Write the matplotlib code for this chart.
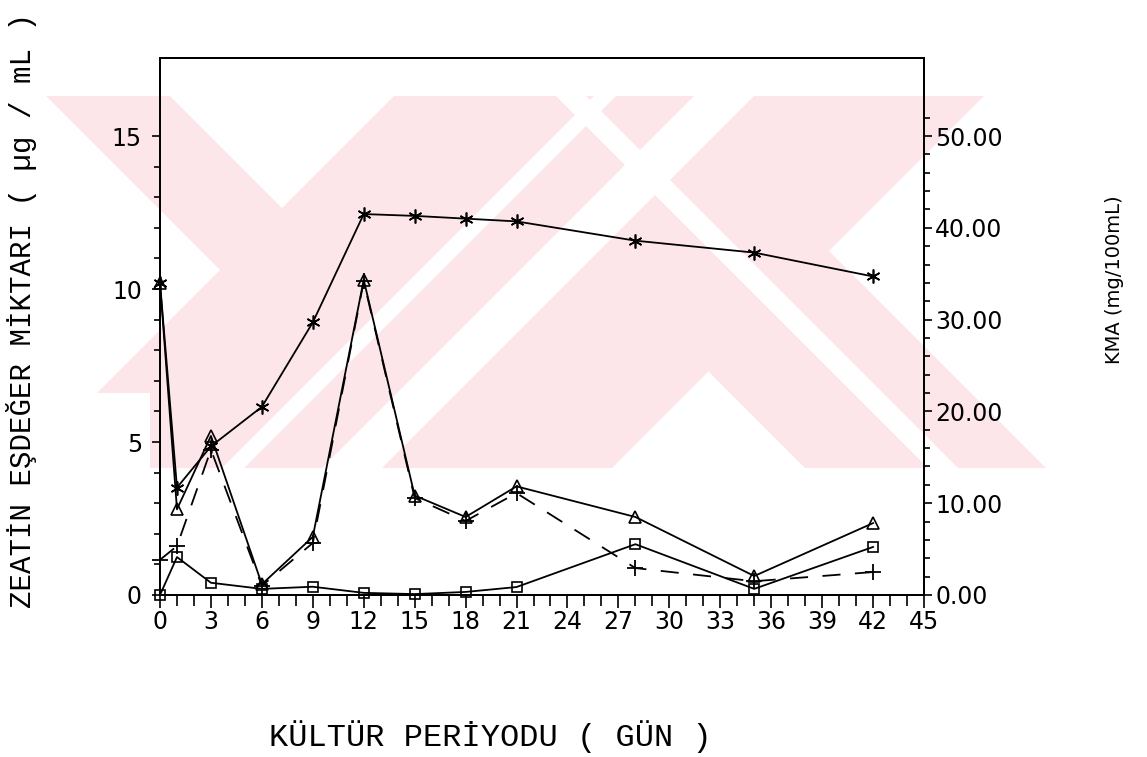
import matplotlib
matplotlib.use("Agg")
import matplotlib.pyplot as plt
from matplotlib.patches import Polygon, Rectangle
from matplotlib.ticker import FixedLocator, FuncFormatter

# Culture period (days)
days = [0, 1, 3, 6, 9, 12, 15, 18, 21, 28, 35, 42]

# Zeatin-equivalent amounts (ug/mL), left axis
zeatin_triangle = [10.2, 2.8, 5.2, 0.35, 1.9, 10.3, 3.25, 2.55, 3.55, 2.55, 0.62, 2.35]
zeatin_plus = [1.15, 1.6, 4.75, 0.3, 1.7, 10.25, 3.17, 2.42, 3.33, 0.88, 0.45, 0.75]
zeatin_square = [0.0, 1.24, 0.4, 0.2, 0.27, 0.07, 0.03, 0.1, 0.26, 1.66, 0.2, 1.57]

# KMA (mg/100mL), right axis
kma = [34.0, 11.7, 16.2, 20.5, 29.7, 41.5, 41.3, 41.0, 40.7, 38.6, 37.3, 34.7]

x_ticks = list(range(0, 46, 3))
left_ticks = [0, 5, 10, 15]
right_ticks = [0, 10, 20, 30, 40, 50]

W, H = 1147, 757
fig = plt.figure(figsize=(W / 100, H / 100), dpi=100)

sans = "DejaVu Sans"
mono = "Liberation Mono"

# Faint background emblem made of diagonal bands, in pixel space (y down)
bg = fig.add_axes([0, 0, 1, 1], zorder=-5)
bg.set_xlim(0, W)
bg.set_ylim(H, 0)
bg.axis("off")
pink = "#fce6ea"
top, bot = 96, 468
clip = Rectangle((0, top), W, bot - top, transform=bg.transData,
                 fc="none", ec="none")


def back_band(c0, c1):
    # band between the lines x - y = c0 and x - y = c1
    return [(c0 + top, top), (c1 + top, top), (c1 + bot, bot), (c0 + bot, bot)]


def fwd_band(s0, s1):
    # band between the lines x + y = s0 and x + y = s1
    return [(s0 - top, top), (s1 - top, top), (s1 - bot, bot), (s0 - bot, bot)]


pink_bands = [back_band(-50, 74), back_band(337, 578), fwd_band(490, 1080)]
white_bands = [back_band(460, 490), fwd_band(790, 850), fwd_band(690, 712),
               [(0, 393), (150, 393), (150, bot), (0, bot)]]
for pts in pink_bands:
    p = bg.add_patch(Polygon(pts, closed=True, fc=pink, ec="none"))
    p.set_clip_path(clip)
for pts in white_bands:
    p = bg.add_patch(Polygon(pts, closed=True, fc="white", ec="none"))
    p.set_clip_path(clip)

ax = fig.add_axes([160 / W, 1 - 595 / H, (924 - 160) / W, (595 - 58) / H])
ax.set_facecolor("none")
ax2 = ax.twinx()
ax2.set_facecolor("none")

lw = 1.3
ax.plot(days, zeatin_triangle, color="black", lw=lw, marker="^", ms=9,
        mfc="none", mec="black", mew=1.2, clip_on=False)
ax.plot(days, zeatin_plus, color="black", lw=lw, ls=(0, (10, 8)), marker="+",
        ms=11, mew=1.3, clip_on=False)
ax.plot(days, zeatin_square, color="black", lw=lw, marker="s", ms=7,
        mfc="none", mec="black", mew=1.2, clip_on=False)
ax2.plot(days, kma, color="black", lw=lw, marker=(6, 2, 0), ms=10,
         mec="black", mew=1.2, clip_on=False)

ax.set_xlim(0, 45)
ax.set_ylim(0, 17.55)
ax2.set_ylim(0, 17.55 * 10 / 3)

ax.xaxis.set_major_locator(FixedLocator(x_ticks))
ax.xaxis.set_minor_locator(FixedLocator(range(0, 46)))
ax.yaxis.set_major_locator(FixedLocator(left_ticks))
ax.yaxis.set_minor_locator(FixedLocator(range(0, 16)))
ax2.yaxis.set_major_locator(FixedLocator(right_ticks))
ax2.yaxis.set_minor_locator(FixedLocator(range(0, 53, 2)))
ax2.yaxis.set_major_formatter(FuncFormatter(lambda v, p: f"{v:.2f}"))

ax.tick_params(axis="x", which="major", direction="out", length=9, width=1.2,
               labelsize=17, pad=2)
ax.tick_params(axis="x", which="minor", direction="out", length=8, width=1.2)
ax.tick_params(axis="y", which="major", direction="out", length=6, width=1.2,
               labelsize=17, pad=7)
ax.tick_params(axis="y", which="minor", direction="out", length=4, width=1.2)
ax2.tick_params(axis="y", which="major", direction="out", length=6, width=1.2,
                labelsize=17, pad=2)
ax2.tick_params(axis="y", which="minor", direction="out", length=4, width=1.2)

for a in (ax, ax2):
    for lbl in a.get_xticklabels() + a.get_yticklabels():
        lbl.set_fontfamily(sans)
    for s in a.spines.values():
        s.set_linewidth(1.4)

fig.text(22 / W, 1 - 310 / H, "ZEATİN EŞDEĞER MİKTARI ( µg / mL )",
         rotation=90, ha="center", va="center", fontsize=21, family=mono)
fig.text(490 / W, 1 - 737 / H, "KÜLTÜR PERİYODU ( GÜN )",
         ha="center", va="center", fontsize=23, family=mono)
fig.text(1115 / W, 1 - 280 / H, "KMA (mg/100mL)", rotation=90,
         ha="center", va="center", fontsize=14, family=sans)

fig.savefig("out.png", dpi=100)
